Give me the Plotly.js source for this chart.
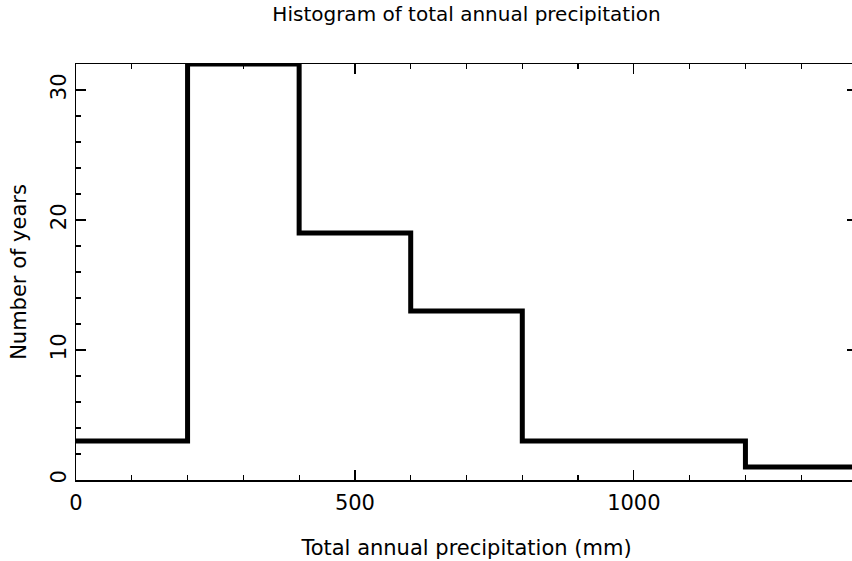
<!DOCTYPE html>
<html>
<head>
<meta charset="utf-8">
<script src="https://cdn.plot.ly/plotly-3.0.1.min.js"></script>
<style>
html,body{margin:0;padding:0;overflow:hidden;background:#fff;}
#chart{width:862px;height:561px;}
</style>
</head>
<body>
<div id="chart"></div>
<script>
// Histogram bin edges (mm) and counts per bin
const binEdges = [0, 200, 400, 600, 800, 1000, 1200, 1400];
const counts = [3, 32, 19, 13, 3, 3, 1];
const xTickVals = [0, 500, 1000];
const yTickVals = [0, 10, 20, 30];

// step outline: each bin's count held until the next edge
const stepX = binEdges.slice();
const stepY = counts.concat([counts[counts.length - 1]]);

const FONT = "DejaVu Sans, sans-serif";

const trace = {
  type: 'scatter',
  mode: 'lines',
  x: stepX,
  y: stepY,
  line: {shape: 'hv', color: '#000', width: 5},
  hoverinfo: 'skip'
};

const axisCommon = {
  showline: true,
  linecolor: '#000',
  linewidth: 1.5,
  mirror: 'allticks',
  ticks: 'inside',
  ticklen: 10,
  tickwidth: 1.2,
  tickcolor: '#000',
  showgrid: false,
  zeroline: false,
  tickfont: {family: FONT, size: 21, color: '#000'}
};

const layout = {
  width: 862,
  height: 561,
  margin: {l: 76, r: 5, t: 64, b: 81},
  paper_bgcolor: '#fff',
  plot_bgcolor: '#fff',
  showlegend: false,
  title: {
    text: 'Histogram of total annual precipitation',
    font: {family: FONT, size: 20, color: '#000'},
    x: 0.5, xref: 'paper', xanchor: 'center',
    y: 0.975, yref: 'container', yanchor: 'middle'
  },
  xaxis: Object.assign({}, axisCommon, {
    range: [0, 1400],
    tickvals: xTickVals,
    ticktext: xTickVals.map(String),
    ticklabelstandoff: 3,
    minor: {dtick: 100, tick0: 0, ticks: 'inside', ticklen: 5, tickwidth: 1.2, tickcolor: '#000', showgrid: false},
    title: {text: 'Total annual precipitation (mm)', font: {family: FONT, size: 21, color: '#000'}, standoff: 26}
  }),
  yaxis: Object.assign({}, axisCommon, {
    range: [0, 32],
    tickvals: yTickVals,
    ticktext: yTickVals.map(String),
    tickangle: -90,
    minor: {dtick: 2, tick0: 0, ticks: 'inside', ticklen: 5, tickwidth: 1.2, tickcolor: '#000', showgrid: false},
    title: {text: 'Number of years', font: {family: FONT, size: 21, color: '#000'}, standoff: 14}
  })
};

Plotly.newPlot('chart', [trace], layout, {displayModeBar: false, staticPlot: true});
</script>
</body>
</html>
